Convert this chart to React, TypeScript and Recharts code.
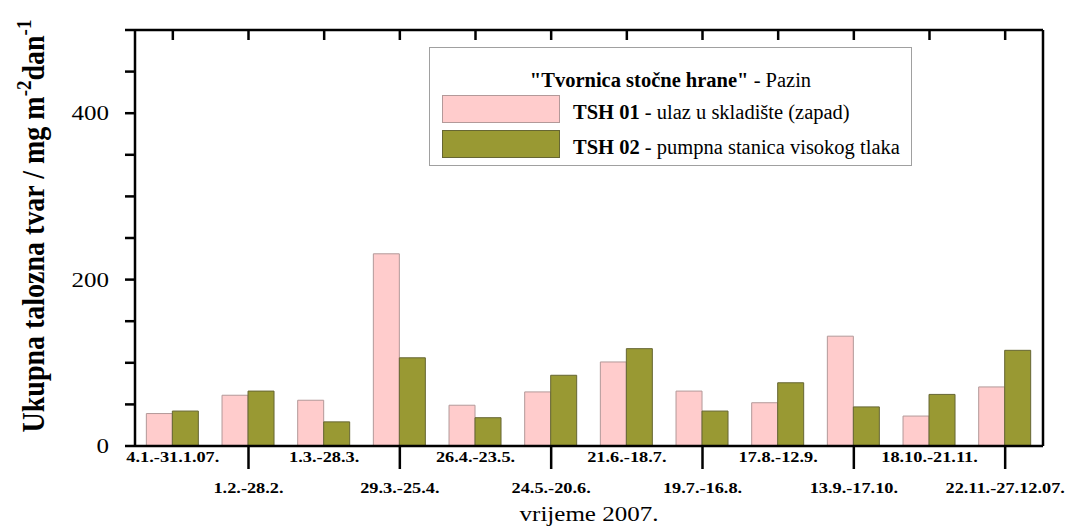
import React from 'react';
import { BarChart, Bar, XAxis, YAxis, Label } from 'recharts';

const PERIODS = [
    '4.1.-31.1.07.', '1.2.-28.2.', '1.3.-28.3.', '29.3.-25.4.', '26.4.-23.5.', '24.5.-20.6.',
    '21.6.-18.7.', '19.7.-16.8.', '17.8.-12.9.', '13.9.-17.10.', '18.10.-21.11.', '22.11.-27.12.07.',
];
const TSH01 = [39, 61, 55, 231, 49, 65, 101, 66, 52, 132, 36, 71];
const TSH02 = [42, 66, 29, 106, 34, 85, 117, 42, 76, 47, 62, 115];

const SERIES_NAMES = ['TSH 01', 'TSH 02'];
const SERIES_DESC = [' - ulaz u skladište (zapad)', ' - pumpna stanica visokog tlaka'];
const LEGEND_TITLE_BOLD = '"Tvornica stočne hrane"';
const LEGEND_TITLE_REST = ' - Pazin';

const LEFT_TICKS = [0, 50, 100, 150, 200, 250, 300, 350, 400, 450, 500];
const RIGHT_TICKS = [0, 25, 50, 75, 100, 125, 150, 175, 200, 225, 250, 275, 300, 325, 350, 375, 400, 425, 450, 475, 500];

const FONT = '"Liberation Serif", "Times New Roman", serif';
const PINK = '#ffcccc';
const OLIVE = '#999933';
const PINK_EDGE = '#b39999';
const OLIVE_EDGE = '#666633';

const data = PERIODS.map((period, i) => ({ period, tsh01: TSH01[i], tsh02: TSH02[i] }));

const BottomTick = (props: any) => {
    const { x, y, payload, index } = props;
    const odd = index % 2 === 1;
    return (
        <g>
            {odd && <line x1={x} x2={x} y1={y} y2={y + 23} stroke="#000" strokeWidth={2.5} />}
            <text
                transform={`translate(${x}, ${y + (odd ? 47 : 16)}) scale(1.22, 1)`}
                textAnchor="middle"
                fontFamily={FONT}
                fontWeight="bold"
                fontSize={15}
                fill="#000"
            >
                {payload.value}
            </text>
        </g>
    );
};

const TopTick = (props: any) => {
    const { x, y } = props;
    return <line x1={x} x2={x} y1={y} y2={y + 10} stroke="#000" strokeWidth={2.5} />;
};

const LeftTick = (props: any) => {
    const { x, y, payload } = props;
    if (payload.value % 200 !== 0) return <g />;
    return (
        <text
            transform={`translate(${x}, ${y}) scale(1.25, 1)`}
            dy="0.355em"
            textAnchor="end"
            fontFamily={FONT}
            fontSize={20}
            fill="#000"
        >
            {payload.value}
        </text>
    );
};

const RightTick = (props: any) => {
    const { x, y, payload } = props;
    const len = payload.value % 100 === 0 ? 9 : 6;
    return <line x1={x} x2={x - len} y1={y} y2={y} stroke="#000" strokeWidth={2.5} />;
};

const LegendBox: React.FC = () => {
    const colors = [PINK, OLIVE];
    const edges = [PINK_EDGE, OLIVE_EDGE];
    return (
        <div
            style={{
                position: 'absolute',
                left: 429,
                top: 47,
                width: 483,
                height: 119,
                boxSizing: 'border-box',
                border: '1px solid #a0a0a0',
                background: '#fff',
                fontFamily: FONT,
                fontSize: 20.5,
                color: '#000',
            }}
        >
            <div style={{ position: 'absolute', top: 20, left: 0, width: '100%', textAlign: 'center', lineHeight: '24px' }}>
                <b>{LEGEND_TITLE_BOLD}</b>{LEGEND_TITLE_REST}
            </div>
            {SERIES_NAMES.map((name, i) => (
                <React.Fragment key={name}>
                    <div
                        style={{
                            position: 'absolute',
                            left: 12,
                            top: 47 + i * 35,
                            width: 118,
                            height: 28,
                            boxSizing: 'border-box',
                            background: colors[i],
                            border: `1px solid ${edges[i]}`,
                        }}
                    />
                    <div style={{ position: 'absolute', left: 143, top: 52 + i * 35, lineHeight: '24px', whiteSpace: 'nowrap' }}>
                        <b>{name}</b>{SERIES_DESC[i]}
                    </div>
                </React.Fragment>
            ))}
        </div>
    );
};

const App: React.FC = () => {
    return (
        <div style={{ position: 'absolute', left: 0, top: 0, width: 1069, height: 527, background: '#fff' }}>
            <BarChart
                width={1069}
                height={527}
                data={data}
                margin={{ top: 29, right: 25, left: 0, bottom: 0 }}
                barGap={0}
                barCategoryGap="15%"
            >
                <XAxis
                    xAxisId="bottom"
                    dataKey="period"
                    height={81}
                    interval={0}
                    tickSize={0}
                    tickMargin={0}
                    tickLine={false}
                    axisLine={{ stroke: '#000', strokeWidth: 2.5 }}
                    tick={BottomTick}
                >
                    <Label
                        content={(p: any) => (
                            <text
                                transform={`translate(${p.viewBox.x + p.viewBox.width / 2}, ${p.viewBox.y + 75}) scale(1.25, 1)`}
                                textAnchor="middle"
                                fontFamily={FONT}
                                fontSize={20}
                                fill="#000"
                            >
                                vrijeme 2007.
                            </text>
                        )}
                    />
                </XAxis>
                <XAxis
                    xAxisId="top"
                    dataKey="period"
                    orientation="top"
                    height={1}
                    interval={0}
                    tickSize={0}
                    tickMargin={0}
                    tickLine={false}
                    axisLine={{ stroke: '#000', strokeWidth: 2.5 }}
                    tick={TopTick}
                />
                <YAxis
                    yAxisId="left"
                    width={135}
                    domain={[0, 500]}
                    ticks={LEFT_TICKS}
                    interval={0}
                    tickSize={10}
                    tickMargin={16}
                    tickLine={{ stroke: '#000', strokeWidth: 2.5 }}
                    axisLine={{ stroke: '#000', strokeWidth: 2.5 }}
                    tick={LeftTick}
                >
                    <Label
                        content={(p: any) => (
                            <text
                                transform={`translate(${p.viewBox.x + 44}, ${p.viewBox.y + p.viewBox.height / 2 - 12}) rotate(-90) scale(1, 1.15)`}
                                textAnchor="middle"
                                fontFamily={FONT}
                                fontWeight="bold"
                                fontSize={28}
                                fill="#000"
                            >
                                Ukupna talozna tvar / mg m
                                <tspan dy={-11} fontSize={19}>-2</tspan>
                                <tspan dy={11}>dan</tspan>
                                <tspan dy={-11} fontSize={19}>-1</tspan>
                            </text>
                        )}
                    />
                </YAxis>
                <YAxis
                    yAxisId="right"
                    orientation="right"
                    width={1}
                    domain={[0, 500]}
                    ticks={RIGHT_TICKS}
                    interval={0}
                    tickSize={0}
                    tickMargin={0}
                    tickLine={false}
                    axisLine={{ stroke: '#000', strokeWidth: 2.5 }}
                    tick={RightTick}
                />
                <Bar
                    xAxisId="bottom"
                    yAxisId="left"
                    dataKey="tsh01"
                    name={SERIES_NAMES[0]}
                    fill={PINK}
                    stroke={PINK_EDGE}
                    strokeWidth={1}
                    isAnimationActive={false}
                />
                <Bar
                    xAxisId="bottom"
                    yAxisId="left"
                    dataKey="tsh02"
                    name={SERIES_NAMES[1]}
                    fill={OLIVE}
                    stroke={OLIVE_EDGE}
                    strokeWidth={1}
                    isAnimationActive={false}
                />
            </BarChart>
            <LegendBox />
        </div>
    );
};

export default App;
